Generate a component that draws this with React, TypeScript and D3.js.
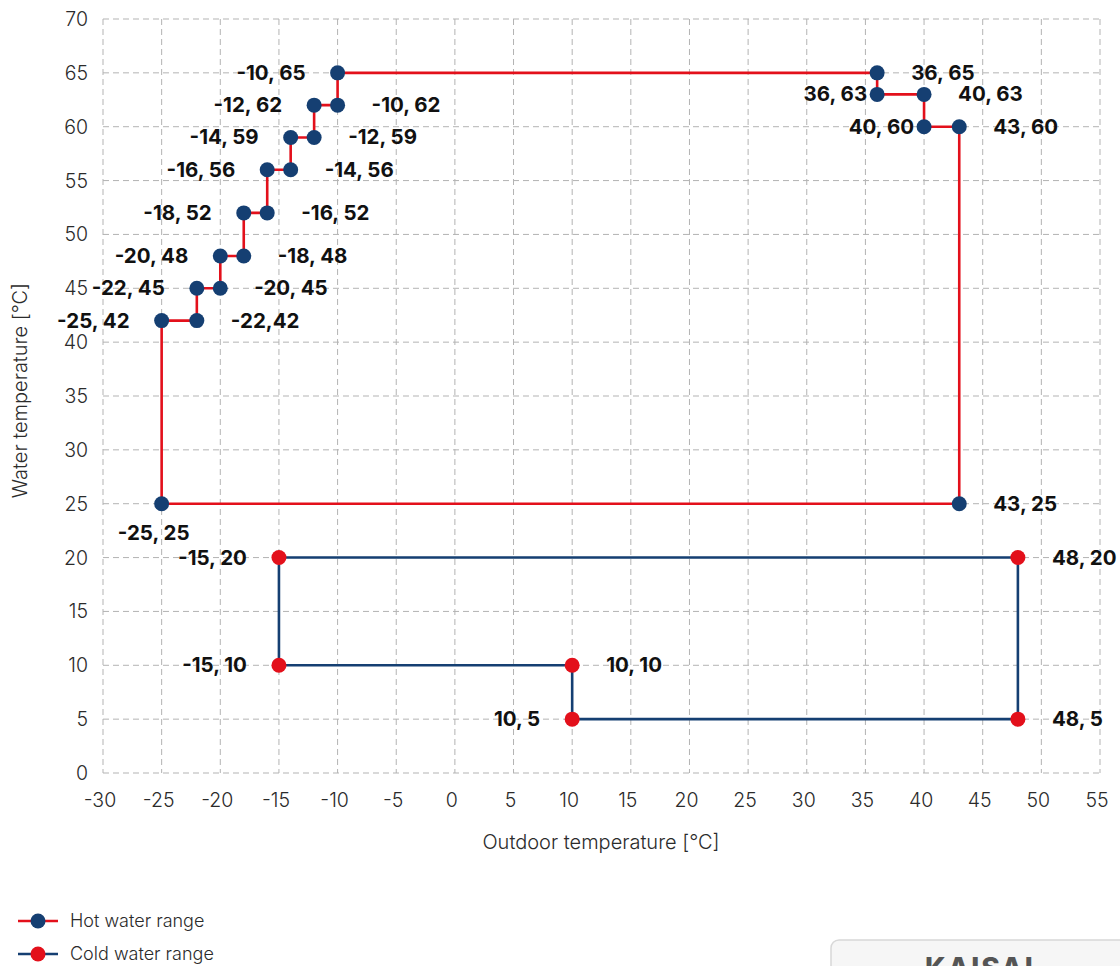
import { useMemo } from "react";
import * as d3 from "d3";

// outdoor / water temperature limits, °C
const X_TICKS = [-30, -25, -20, -15, -10, -5, 0, 5, 10, 15, 20, 25, 30, 35, 40, 45, 50, 55];
const Y_TICKS = [0, 5, 10, 15, 20, 25, 30, 35, 40, 45, 50, 55, 60, 65, 70];

const hotOutdoor = [-25, -25, -22, -22, -20, -20, -18, -18, -16, -16, -14, -14, -12, -12, -10, -10, 36, 36, 40, 40, 43, 43];
const hotWater = [25, 42, 42, 45, 45, 48, 48, 52, 52, 56, 56, 59, 59, 62, 62, 65, 65, 63, 63, 60, 60, 25];
const hotLabels = [
  "-25, 25", "-25, 42", "-22,42", "-22, 45", "-20, 45", "-20, 48", "-18, 48", "-18, 52", "-16, 52",
  "-16, 56", "-14, 56", "-14, 59", "-12, 59", "-12, 62", "-10, 62", "-10, 65", "36, 65", "36, 63",
  "40, 63", "40, 60", "43, 60", "43, 25",
];
// where each label sits next to its point
const hotLabelSide = [
  "b", "l", "r", "l", "r", "l", "r", "l", "r", "l", "r", "l", "r", "l", "r", "l", "r", "ln", "r", "ln", "r", "r",
];

const coldOutdoor = [-15, 48, 48, 10, 10, -15];
const coldWater = [20, 20, 5, 5, 10, 10];
const coldLabels = ["-15, 20", "48, 20", "48, 5", "10, 5", "10, 10", "-15, 10"];
const coldLabelSide = ["l", "r", "r", "l", "r", "l"];

const RED = "#e3101b";
const NAVY = "#153f72";
const GRID = "#b3b3b3";
const TEXT = "#2b2b2b";
const FONT = "Inter, 'Noto Sans', sans-serif";

const W = 1120;
const H = 966;

export default function App() {
  const x = useMemo(() => d3.scaleLinear().domain([-30, 55]).range([103, 1100]), []);
  const y = useMemo(() => d3.scaleLinear().domain([0, 70]).range([773, 19]), []);

  const hot = hotOutdoor.map((o, i) => ({ o, w: hotWater[i], label: hotLabels[i], side: hotLabelSide[i] }));
  const cold = coldOutdoor.map((o, i) => ({ o, w: coldWater[i], label: coldLabels[i], side: coldLabelSide[i] }));

  const line = d3
    .line<{ o: number; w: number }>()
    .x((d) => x(d.o))
    .y((d) => y(d.w))
    .curve(d3.curveLinearClosed);

  const labelProps = (d: { o: number; w: number; side: string }) => {
    const px = x(d.o);
    const py = y(d.w);
    if (d.side === "b") return { x: px - 8, y: py + 36, anchor: "middle" };
    if (d.side === "ln") return { x: px - 10, y: py + 7, anchor: "end" };
    if (d.side === "l") return { x: px - 32, y: py + 7, anchor: "end" };
    return { x: px + 34, y: py + 7, anchor: "start" };
  };

  const renderLabels = (pts: typeof hot) =>
    pts.map((d, i) => {
      const p = labelProps(d);
      return (
        <text
          key={i}
          x={p.x}
          y={p.y}
          textAnchor={p.anchor as "start" | "middle" | "end"}
          fontFamily={FONT}
          fontWeight={700}
          fontSize={20.5}
          fill="#111"
        >
          {d.label}
        </text>
      );
    });

  return (
    <div style={{ position: "absolute", left: 0, top: 0, width: W, height: H, overflow: "hidden", background: "#fff" }}>
      <svg width={W} height={H} style={{ display: "block" }}>
        {/* grid */}
        <g stroke={GRID} strokeWidth={1} strokeDasharray="6,4">
          {X_TICKS.map((t) => (
            <line key={"gx" + t} x1={x(t)} x2={x(t)} y1={y(70)} y2={y(0)} />
          ))}
          {Y_TICKS.map((t) => (
            <line key={"gy" + t} x1={x(-30)} x2={x(55)} y1={y(t)} y2={y(t)} />
          ))}
        </g>

        {/* tick labels */}
        <g fontFamily={FONT} fontWeight={300} fontSize={19.5} fill={TEXT}>
          {Y_TICKS.map((t) => (
            <text key={"ty" + t} x={88} y={y(t) + 7} textAnchor="end">
              {t}
            </text>
          ))}
          {X_TICKS.map((t) => (
            <text key={"tx" + t} x={x(t) - 3} y={807} textAnchor="middle">
              {t}
            </text>
          ))}
        </g>

        {/* axis titles */}
        <text x={601} y={849} textAnchor="middle" fontFamily={FONT} fontWeight={300} fontSize={20} fill={TEXT}>
          Outdoor temperature [°C]
        </text>
        <text
          transform={`translate(27, ${y(35.5)}) rotate(-90)`}
          textAnchor="middle"
          fontFamily={FONT}
          fontWeight={300}
          fontSize={20}
          fill={TEXT}
        >
          Water temperature [°C]
        </text>

        {/* cold water range */}
        <path d={line(cold) ?? ""} fill="none" stroke={NAVY} strokeWidth={2.6} />
        {cold.map((d, i) => (
          <circle key={"cp" + i} cx={x(d.o)} cy={y(d.w)} r={7.5} fill={RED} />
        ))}
        {renderLabels(cold)}

        {/* hot water range */}
        <path d={line(hot) ?? ""} fill="none" stroke={RED} strokeWidth={2.6} />
        {hot.map((d, i) => (
          <circle key={"hp" + i} cx={x(d.o)} cy={y(d.w)} r={7.5} fill={NAVY} />
        ))}
        {renderLabels(hot)}

        {/* legend */}
        <g fontFamily={FONT} fontWeight={300} fontSize={18} fill={TEXT}>
          <line x1={18} x2={58} y1={921} y2={921} stroke={RED} strokeWidth={2.6} />
          <circle cx={38} cy={921} r={7.5} fill={NAVY} />
          <text x={70} y={927}>Hot water range</text>
          <line x1={18} x2={58} y1={954} y2={954} stroke={NAVY} strokeWidth={2.6} />
          <circle cx={38} cy={954} r={7.5} fill={RED} />
          <text x={70} y={960}>Cold water range</text>
        </g>

        {/* product badge, cut by the page edge */}
        <rect x={831} y={940} width={330} height={80} rx={8} fill="#f6f6f6" stroke="#d8d8d8" strokeWidth={1.5} />
        <text x={925} y={978} fontFamily={FONT} fontWeight={800} fontSize={28} fill="#555" letterSpacing={2}>
          KAISAI
        </text>
      </svg>
    </div>
  );
}
